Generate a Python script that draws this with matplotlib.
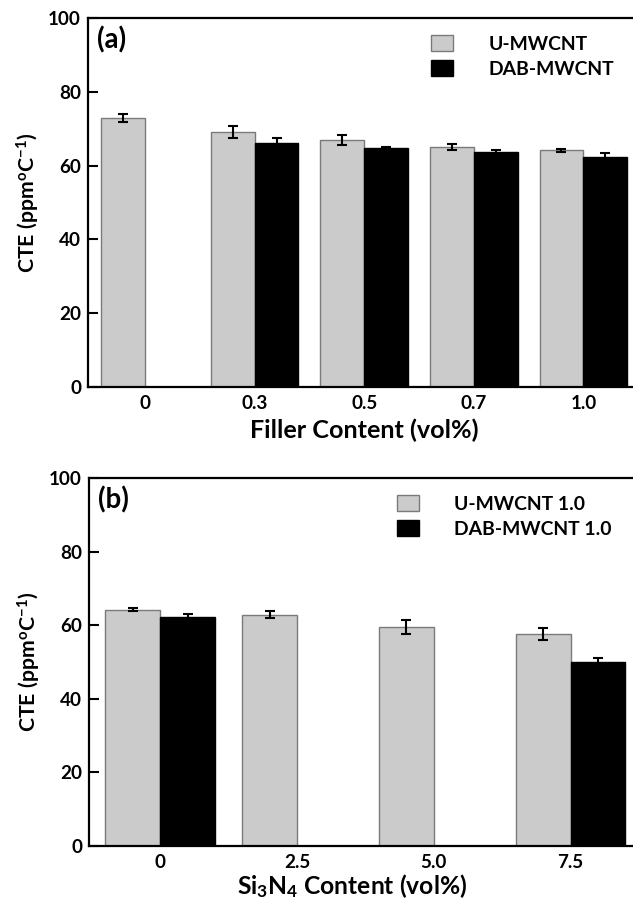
import numpy as np
import matplotlib
matplotlib.use('Agg')
from matplotlib import pyplot as plt

plt.rcParams['font.family'] = ['Lato', 'DejaVu Sans']
plt.rcParams['font.weight'] = 'bold'
plt.rcParams['mathtext.fontset'] = 'custom'
plt.rcParams['mathtext.bf'] = 'Lato:bold'
plt.rcParams['mathtext.rm'] = 'Lato:bold'
plt.rcParams['mathtext.default'] = 'bf'

# panel (a): filler content
filler_labels = ['0', '0.3', '0.5', '0.7', '1.0']
u_cte_a = [72.9, 69.0, 66.9, 65.0, 64.2]
u_err_a = [1.1, 1.6, 1.3, 0.9, 0.4]
dab_cte_a = [np.nan, 66.2, 64.8, 63.6, 62.4]
dab_err_a = [np.nan, 1.3, 0.3, 0.5, 0.9]

# panel (b): Si3N4 content
si_labels = ['0', '2.5', '5.0', '7.5']
u_cte_b = [64.2, 62.9, 59.5, 57.6]
u_err_b = [0.4, 1.0, 2.0, 1.6]
dab_cte_b = [62.2, np.nan, np.nan, 49.9]
dab_err_b = [0.9, np.nan, np.nan, 1.2]

ylab = 'CTE (ppm$^{o}$C$^{-1}$)'
gray = '#cbcbcb'
w = 0.4

fig = plt.figure(figsize=(6.33, 9.06), dpi=100)
renderer = fig.canvas.get_renderer()
px = 100 / 72.0


def measure(text, fs, rotation=0):
    t = fig.text(0, 0, text, fontsize=fs, fontweight='bold', rotation=rotation)
    bb = t.get_window_extent(renderer)
    t.remove()
    return bb


def fit(text, target, rotation=0):
    # font size that makes the text span `target` pixels
    bb = measure(text, 10, rotation)
    size = bb.height if rotation else bb.width
    return 10 * target / size


tick_fs = fit('100', 33)
ylab_fs = fit(ylab, 141, rotation=90)
tag_fs = fit('(a)', 29)
xlab_fs_a = fit('Filler Content (vol%)', 229)
xlab_fs_b = fit('Si$_{3}$N$_{4}$ Content (vol%)', 232)
leg_fs = fit('DAB-MWCNT', 126)

ax1 = fig.add_axes([88 / 633, 1 - 387 / 906, 545 / 633 + 0.003, 369 / 906])
ax2 = fig.add_axes([89 / 633, 1 - 846 / 906, 544 / 633 + 0.003, 368 / 906])


def draw(ax, labels, u, ue, d, de, names, patch_left, patch_top, ax_w, ax_h,
         xlabel, xlab_fs, xlab_pos, tag):
    x = np.arange(len(labels))
    ax.bar(x - w / 2, u, w, color=gray, edgecolor='#7a7a7a', linewidth=1.0,
           label=names[0], zorder=2)
    ax.bar(x + w / 2, d, w, color='black', edgecolor='black', linewidth=1.0,
           label=names[1], zorder=2)
    ax.errorbar(x - w / 2, u, yerr=ue, fmt='none', ecolor='black',
                elinewidth=1.5, capsize=3.8, capthick=1.5, zorder=3)
    ax.errorbar(x + w / 2, d, yerr=de, fmt='none', ecolor='black',
                elinewidth=1.5, capsize=3.8, capthick=1.5, zorder=3)
    ax.set_xlim(-0.52, len(labels) - 0.53)
    ax.set_ylim(0, 100)
    ax.set_xticks(x)
    ax.set_xticklabels(labels)
    ax.set_yticks([0, 20, 40, 60, 80, 100])
    ax.tick_params(axis='x', length=0, labelsize=tick_fs, pad=6)
    ax.tick_params(axis='y', direction='in', length=7, width=1.5,
                   labelsize=tick_fs, pad=5)
    for s in ax.spines.values():
        s.set_linewidth(1.6)
    ax.set_ylabel(ylab, fontsize=ylab_fs, fontweight='bold', va='bottom')
    ax.yaxis.set_label_coords((42 - 88) / ax_w, 0.5)
    ax.set_xlabel(xlabel, fontsize=xlab_fs, fontweight='bold', va='top')
    ax.xaxis.set_label_coords(*xlab_pos)
    ax.text(9 / ax_w, 1 - 8 / ax_h, tag, transform=ax.transAxes,
            fontsize=tag_fs, fontweight='bold', va='top', ha='left')

    fpx = leg_fs * px
    th = measure('DAB-MWCNT', leg_fs).height
    hh = 18.0
    spacing = (25.0 - max(th, hh)) / fpx
    top = patch_top + max(0.0, (th - hh) / 2) / ax_h
    ax.legend(loc='upper left', bbox_to_anchor=(patch_left, top),
              frameon=False, fontsize=leg_fs, handlelength=22 / fpx,
              handleheight=hh / fpx, handletextpad=(57 - 22) / fpx,
              labelspacing=spacing, borderpad=0, borderaxespad=0)


draw(ax1, filler_labels, u_cte_a, u_err_a, dab_cte_a, dab_err_a,
     ['U-MWCNT', 'DAB-MWCNT'], (430 - 88) / 545, (387 - 35) / 369, 545, 369,
     'Filler Content (vol%)', xlab_fs_a, (0.505, (387 - 419) / 369), '(a)')
draw(ax2, si_labels, u_cte_b, u_err_b, dab_cte_b, dab_err_b,
     ['U-MWCNT 1.0', 'DAB-MWCNT 1.0'], (396 - 89) / 544, (846 - 495) / 368,
     544, 368, 'Si$_{3}$N$_{4}$ Content (vol%)', xlab_fs_b,
     (0.482, (846 - 872) / 368), '(b)')

fig.savefig('out.png', dpi=100)
